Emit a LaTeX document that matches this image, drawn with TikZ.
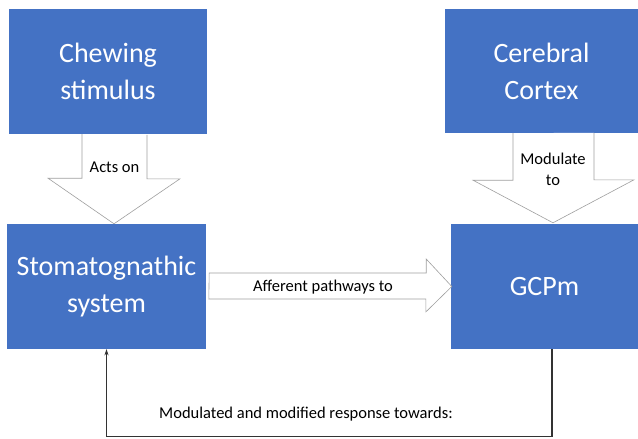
\documentclass[tikz,border=0pt]{standalone}
\usepackage{fontspec}
\setmainfont{Carlito}
\usetikzlibrary{arrows.meta,calc}
\definecolor{boxblue}{HTML}{4472C4}
\begin{document}
\begin{tikzpicture}[x=1pt, y=-1pt,
    block/.style={rectangle, fill=boxblue, text=white, align=center, inner sep=0pt,
        font=\fontsize{28}{37}\selectfont},
    fat/.style={draw=gray!75, fill=white, line width=0.6pt, line join=miter},
    lbl/.style={font=\fontsize{16.5}{20}\selectfont, align=center, inner sep=0pt},
    back/.style={-{Stealth[length=6pt,width=4pt]}, draw=black!80, line width=1.1pt}]
    \useasboundingbox (0,0) rectangle (638,439);

    % Blocks
    \node[block, minimum width=198pt, minimum height=125pt] (chew) at (108,71.5) {Chewing\\stimulus};
    \node[block, minimum width=193pt, minimum height=124pt] (cortex) at (541.5,71) {Cerebral\\Cortex};
    \node[block, minimum width=199pt, minimum height=125pt] (stom) at (106.5,286.5) {Stomatognathic\\system};
    \node[block, minimum width=187pt, minimum height=125pt] (gcpm) at (544.5,286.5) {GCPm};

    % Block arrows
    \draw[fat] ($(chew.south)+(-26,0)$) -- ++(0,44) -- ++(-34,0) -- ($(stom.north)+(7.5,0)$)
        -- ++(66,-45) -- ++(-33,0) -- ++(0,-44);
    \node[lbl] (acts) at (114.5,167) {Acts on};

    \draw[fat] ($(cortex.south)+(-28.5,0)$) -- ++(0,47) -- ++(-40,0) -- ($(gcpm.north)+(8.5,-1)$)
        -- ++(81,-43) -- ++(-40,0) -- ++(0,-47);
    \node[lbl, font=\fontsize{16.5}{21}\selectfont] (modul) at (553,169) {Modulate\\to};

    \draw[fat] ($(stom.east)+(3,-13.5)$) -- ++(217,0) -- ++(0,-14) -- ($(gcpm.west)+(1,0)$)
        -- ++(-26,25.5) -- ++(0,-13) -- ++(-217,0) -- cycle;
    \node[lbl] (aff) at (323,287) {Afferent pathways to};

    % Feedback
    \draw[back] ($(gcpm.south)+(7.5,0)$) -- ++(0,87) -| (stom.south);
    \node[lbl] (resp) at (306,414) {Modulated and modified response towards:};

\end{tikzpicture}
\end{document}
